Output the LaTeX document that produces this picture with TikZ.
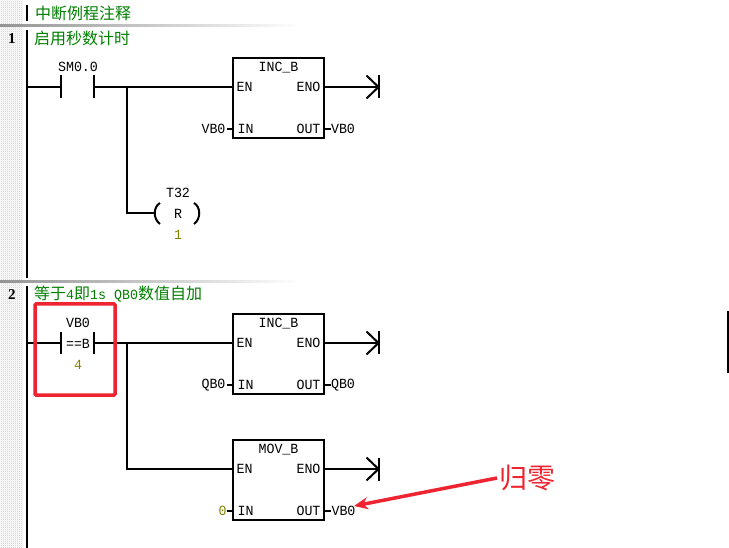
\documentclass[tikz,border=0pt]{standalone}
\usepackage{fontspec}
\setmainfont{Liberation Serif}
\newfontfamily\plcfont[FakeStretch=0.95]{Liberation Mono}
\newfontfamily\cjkfont{Noto Sans CJK SC}
\newcommand{\lat}[1]{{\plcfont\fontsize{14}{15}\selectfont #1}}
\usetikzlibrary{arrows.meta,patterns}
\definecolor{cmt}{HTML}{008000}
\definecolor{olivec}{HTML}{808000}
\definecolor{redc}{HTML}{EE2430}
\definecolor{gutter}{HTML}{C4C4C4}
\pgfdeclarepatternformonly{dither}{\pgfqpoint{0pt}{0pt}}{\pgfqpoint{2pt}{2pt}}{\pgfqpoint{2pt}{2pt}}{%
  \pgfpathrectangle{\pgfqpoint{0pt}{0pt}}{\pgfqpoint{1pt}{1pt}}%
  \pgfpathrectangle{\pgfqpoint{1pt}{1pt}}{\pgfqpoint{1pt}{1pt}}%
  \pgfusepath{fill}%
}
\tikzset{
  wire/.style={draw=black,line width=2pt},
  plc/.style={font=\plcfont\fontsize{14}{15}\selectfont,inner sep=0pt,text=black},
  val/.style={plc,text=olivec},
  cmtext/.style={font=\cjkfont\fontsize{16}{17}\selectfont,text=cmt,inner sep=0pt,anchor=west},
  fbox/.style={draw=black,line width=2pt,minimum width=91pt,minimum height=80pt,inner sep=0pt},
  rungnum/.style={font=\bfseries\fontsize{15}{16}\selectfont,inner sep=0pt},
}
\newcommand{\plcblock}[9]{%
 \node[fbox,anchor=north] (#1) at (#2,#3) {};
 \node[plc] (#1t) at (#2,#3+11) {#4};
 \node[plc] (#1en) at (#2-34,#3+30) {EN};
 \node[plc] (#1eno) at (#2+30,#3+30) {ENO};
 \node[plc] (#1in) at (#2-33,#3+72) {IN};
 \node[plc] (#1out) at (#2+30,#3+72) {OUT};
 \coordinate (#1a) at (#2-45.5,#3+30);
 \coordinate (#1b) at (#2+45.5,#3+30);
 \coordinate (#1c) at (#2-45.5,#3+72);
 \coordinate (#1d) at (#2+45.5,#3+72);
 \coordinate (#1tip) at (#2+100,#3+30);
 \coordinate (#1l) at (#2-52,#3+72);
 \coordinate (#1r) at (#2+52,#3+72);
 \draw[wire] (#1b) -- (#1tip);
 \draw[wire] ([xshift=-12pt,yshift=11.5pt]#1tip) -- (#1tip) -- ([xshift=-12pt,yshift=-11.5pt]#1tip);
 \draw[wire] ([yshift=11.5pt]#1tip) -- ([yshift=-11.5pt]#1tip);
 \draw[wire] (#1l) -- (#1c);
 \draw[wire] (#1d) -- (#1r);
 \node[#7] (#1il) at (#2+#8,#3+72) {#5};
 \node[plc] (#1ol) at (#2+#9,#3+72) {#6};
}
\begin{document}
\begin{tikzpicture}[x=1pt,y=-1pt]
\useasboundingbox (0,0) rectangle (729,548);
\fill[white] (0,0) rectangle (729,548);
% gutter
\fill[pattern=dither,pattern color=gutter] (0,0) rectangle (23,548);
% separators
\shade[left color=black!42,right color=white] (0,25) rectangle (300,27);
\shade[left color=black!42,right color=white] (0,281) rectangle (300,283);
% power rail
\coordinate (r0a) at (27,5); \coordinate (r0b) at (27,21);
\coordinate (r1a) at (27,30); \coordinate (r1b) at (27,278);
\coordinate (r2a) at (27,286); \coordinate (r2b) at (27,548);
\draw[wire] (r0a) -- (r0b);
\draw[wire] (r1a) -- (r1b);
\draw[wire] (r2a) -- (r2b);
% comments
\node[cmtext] (c0) at (35,13.5) {中断例程注释};
\node[cmtext] (c1) at (34,38.5) {启用秒数计时};
\node[cmtext] (c2) at (34,294.5) {等于\lat{4}即\lat{1s QB0}数值自加};
\node[rungnum] (n1) at (12,39) {1};
\node[rungnum] (n2) at (12,294.5) {2};
% rung 1
\plcblock{ba}{278.5}{57}{INC\_B}{VB0}{VB0}{plc}{-65}{64.5}
\coordinate (s1) at (27,87);
\coordinate (c1l) at (61,87); \coordinate (c1r) at (94,87);
\coordinate (j1) at (127,87);
\draw[wire] (s1) -- (c1l);
\draw[wire] (c1l |- 0,75.5) -- (c1l |- 0,98.5);
\draw[wire] (c1r |- 0,75.5) -- (c1r |- 0,98.5);
\draw[wire] (c1r) -- (baa);
\node[plc] (sm) at (78,66.5) {SM0.0};
\coordinate (k1) at (127,213);
\node[plc] (coilt) at (178,193) {T32};
\node[plc] (coilr) at (178,213.5) {R};
\node[val] (coilv) at (178,235) {1};
\coordinate (pl) at (154,213);
\draw[wire] (j1) -- (k1) -- (pl);
\draw[wire] (160,203) .. controls (153,207) and (153,219) .. (160,224);
\draw[wire] (194,203) .. controls (201,207) and (201,219) .. (194,224);
% rung 2
\plcblock{bb}{278.5}{313}{INC\_B}{QB0}{QB0}{plc}{-65}{64.5}
\plcblock{bc}{278.5}{439}{MOV\_B}{0}{VB0}{val}{-56}{65}
\coordinate (s2) at (27,343);
\coordinate (c2l) at (61,343); \coordinate (c2r) at (94,343);
\coordinate (j2) at (127,343);
\coordinate (k2) at (127,469);
\draw[wire] (s2) -- (c2l);
\draw[wire] (c2l |- 0,332) -- (c2l |- 0,354.5);
\draw[wire] (c2r |- 0,332) -- (c2r |- 0,354.5);
\draw[wire] (c2r) -- (bba);
\draw[wire] (j2) -- (k2) -- (bca);
\node[plc] (vb) at (78,322.5) {VB0};
\node[plc] (eqb) at (78,343.5) {==B};
\node[val] (four) at (78,365) {4};
% red annotations
\node[draw=redc,line width=3.5pt,rounded corners=1pt,minimum width=80pt,minimum height=91pt,inner sep=0pt] (hl) at (75,349.5) {};
\node[font=\cjkfont\fontsize{28}{29}\selectfont,text=redc,inner sep=0pt] (gl) at (527.5,477.5) {归零};
\coordinate (atip) at (354,506);
\draw[draw=redc,line width=3.5pt,-{Stealth[length=14pt,width=12pt]}] (497,478) -- (atip);
% right edge mark
\coordinate (m1) at (728,311); \coordinate (m2) at (728,373);
\draw[black,line width=1.2pt] (m1) -- (m2);
\end{tikzpicture}
\end{document}
